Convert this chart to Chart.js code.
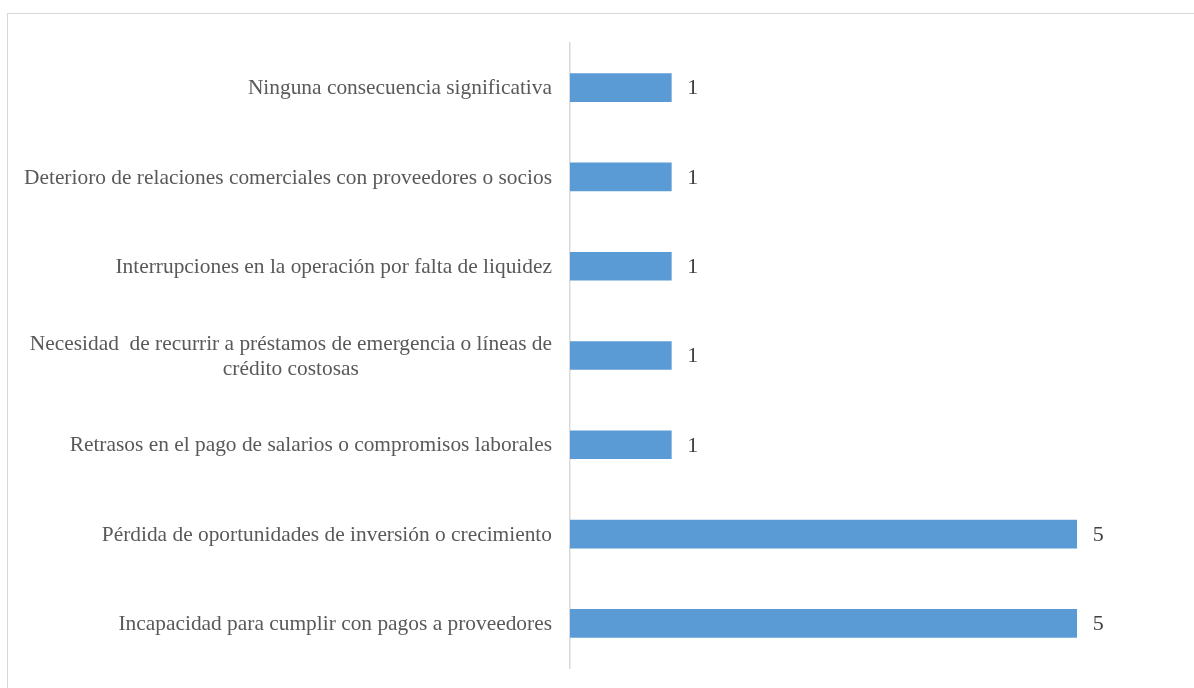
<!DOCTYPE html>
<html>
<head>
<meta charset="utf-8">
<script src="https://cdn.jsdelivr.net/npm/chart.js@4/dist/chart.umd.min.js"></script>
<style>
  body { margin: 0; background: #fff; }
  #wrap { position: relative; width: 1194px; height: 688px; overflow: hidden; }
  #frame { position: absolute; left: 7px; top: 13px; width: 1300px; height: 800px; border: 1px solid #d9d9d9; box-sizing: border-box; }
  canvas { position: absolute; left: 0; top: 0; }
</style>
</head>
<body>
<div id="wrap">
  <div id="frame"></div>
  <canvas id="chart" width="1194" height="688"></canvas>
</div>
<script>
// categories, top to bottom
const categories = [
  ["Ninguna consecuencia significativa"],
  ["Deterioro de relaciones comerciales con proveedores o socios"],
  ["Interrupciones en la operación por falta de liquidez"],
  ["Necesidad  de recurrir a préstamos de emergencia o líneas de", "crédito costosas"],
  ["Retrasos en el pago de salarios o compromisos laborales"],
  ["Pérdida de oportunidades de inversión o crecimiento"],
  ["Incapacidad para cumplir con pagos a proveedores"]
];
const values = [1, 1, 1, 1, 1, 5, 5];

const labelFont = "21.4px 'Liberation Serif', serif";
const valueFont = "22px 'Liberation Serif', serif";

// category labels: block right aligned to the axis, lines centred in the block
const categoryLabels = {
  id: "categoryLabels",
  afterDraw(chart) {
    const ctx = chart.ctx;
    const yScale = chart.scales.y;
    const right = chart.chartArea.left - 18;
    const lineH = 25;
    ctx.save();
    ctx.font = labelFont;
    ctx.fillStyle = "#595959";
    ctx.textBaseline = "middle";
    ctx.textAlign = "center";
    categories.forEach((lines, i) => {
      const yc = yScale.getPixelForTick(i) + 1;
      const w = Math.max(...lines.map((l) => ctx.measureText(l).width));
      const cx = right - w / 2;
      const top = yc - (lines.length - 1) * lineH / 2;
      lines.forEach((l, j) => ctx.fillText(l, cx, top + j * lineH));
    });
    ctx.restore();
  }
};

// value labels at the end of each bar
const valueLabels = {
  id: "valueLabels",
  afterDatasetsDraw(chart) {
    const ctx = chart.ctx;
    const meta = chart.getDatasetMeta(0);
    ctx.save();
    ctx.font = valueFont;
    ctx.fillStyle = "#404040";
    ctx.textBaseline = "middle";
    ctx.textAlign = "left";
    meta.data.forEach((bar, i) => {
      ctx.fillText(String(values[i]), bar.x + 16, bar.y + 1);
    });
    ctx.restore();
  }
};

new Chart("chart", {
  type: "bar",
  data: {
    labels: categories.map((c) => c.join(" ")),
    datasets: [
      {
        data: values,
        backgroundColor: "#5b9bd5",
        borderWidth: 0,
        barThickness: 28,
      },
    ],
  },
  options: {
    indexAxis: "y",
    responsive: false,
    animation: false,
    events: [],
    layout: {
      padding: { left: 570, top: 43, bottom: 20, right: 16 },
    },
    scales: {
      x: {
        display: false,
        min: 0,
        max: 6,
      },
      y: {
        display: true,
        ticks: { display: false },
        grid: { display: false, drawTicks: false },
        border: { display: true, color: "#d9d9d9", width: 1.5 },
      },
    },
    plugins: {
      legend: { display: false },
      tooltip: { enabled: false },
    },
  },
  plugins: [categoryLabels, valueLabels],
});
</script>
</body>
</html>
